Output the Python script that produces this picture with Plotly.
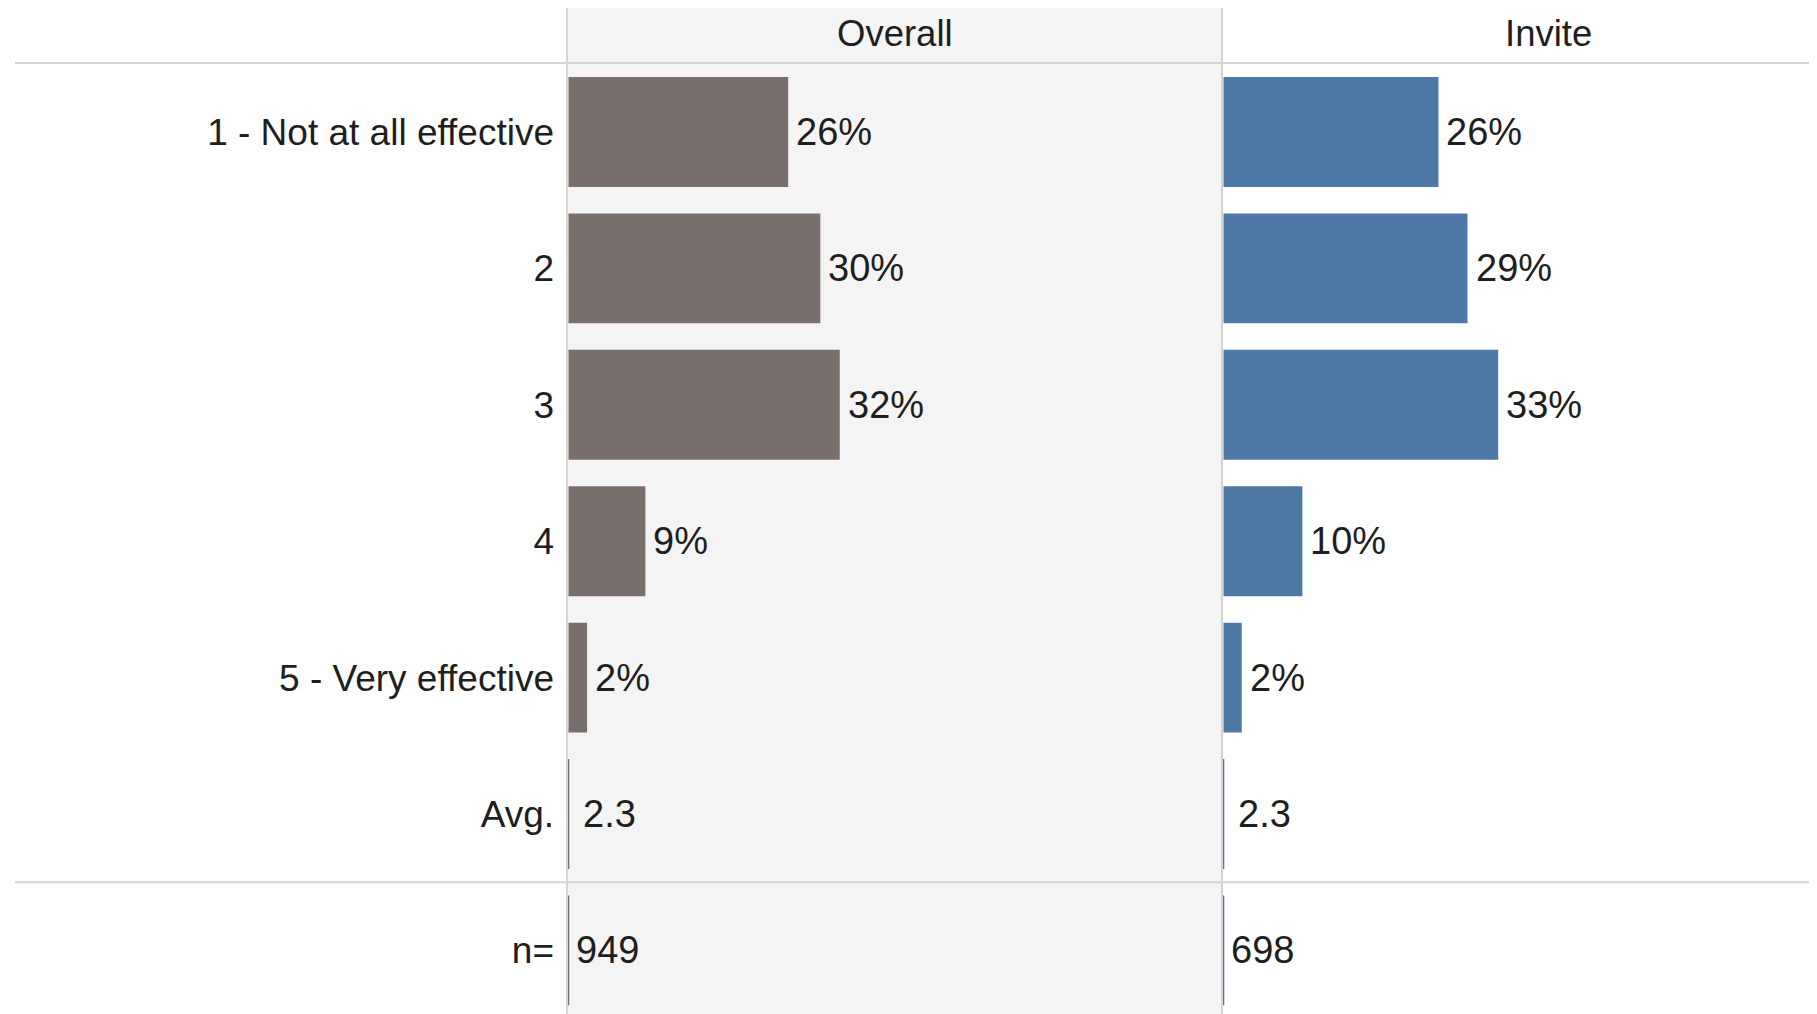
import plotly.graph_objects as go

# ---- data ----
categories = ["1 - Not at all effective", "2", "3", "4", "5 - Very effective", "Avg.", "n="]
panels = ["Overall", "Invite"]
overall_pct = [26.0, 29.8, 32.1, 9.1, 2.2]
invite_pct = [25.9, 29.4, 33.1, 9.5, 2.2]
overall_pct_labels = ["26%", "30%", "32%", "9%", "2%"]
invite_pct_labels = ["26%", "29%", "33%", "10%", "2%"]
avg_values = [2.3, 2.3]
n_values = [949, 698]

# ---- style / layout geometry (figure pixels) ----
W, H = 1809, 1006
L = 559            # left edge of the Overall panel
SPLIT_PX = 1214    # border between panels
colors = ["#79706E", "#4E79A7"]
text_color = "#1e1e1e"
line_color = "#d3d3d3"
FONT = "Liberation Sans, Arial, sans-serif"
top_px = 55.8
row_px = 136.4
n_rows_visible = (H - top_px) / row_px
y_range = [-0.5 + n_rows_visible, -0.5]
y_dom_top = 1 - top_px / H
split = (SPLIT_PX - L) / (W - L)
pad_pct = [1.5 / 8.45, 1.5 / 8.3]
x_ranges = [[-pad_pct[0], 655 / 8.45 - pad_pct[0]],
            [-pad_pct[1], (W - SPLIT_PX) / 8.3 - pad_pct[1]]]

def px_to_paper_x(p):
    return (p - L) / (W - L)

def px_to_paper_y(p):
    return 1 - p / H

fig = go.Figure()

pct_sets = [overall_pct, invite_pct]
lab_sets = [overall_pct_labels, invite_pct_labels]
axes = ["x", "x2"]
avg_idx = categories.index("Avg.")
n_idx = categories.index("n=")
annotations = []
for i in range(2):
    xs = pct_sets[i] + [0, 0]
    lw = [0] * len(pct_sets[i]) + [1.6, 1.6]
    fig.add_trace(go.Bar(
        x=xs, y=categories, orientation="h",
        xaxis=axes[i], yaxis="y",
        width=0.806,
        marker=dict(color=colors[i], line=dict(color=colors[i], width=lw)),
        hoverinfo="skip", showlegend=False,
    ))
    for j, (v, t) in enumerate(zip(pct_sets[i], lab_sets[i])):
        annotations.append(dict(x=v, y=j, xref=axes[i], yref="y",
                                text=t, showarrow=False, xanchor="left", xshift=6,
                                font=dict(size=38, color=text_color, family=FONT)))
    annotations.append(dict(x=0, y=avg_idx, xref=axes[i], yref="y",
                            text=f"{avg_values[i]:.1f}", showarrow=False, xanchor="left", xshift=12,
                            font=dict(size=38, color=text_color, family=FONT)))
    annotations.append(dict(x=0, y=n_idx, xref=axes[i], yref="y",
                            text=str(n_values[i]), showarrow=False, xanchor="left", xshift=5,
                            font=dict(size=38, color=text_color, family=FONT)))

# panel headers
header_x = [px_to_paper_x((L + SPLIT_PX) / 2), px_to_paper_x(1540)]
for hx, name in zip(header_x, panels):
    annotations.append(dict(x=hx, y=px_to_paper_y(26), xref="paper", yref="paper",
                            text=name, showarrow=False, xanchor="center", yanchor="middle",
                            font=dict(size=36.5, color=text_color, family=FONT)))

line_y = top_px + 6 * row_px
shapes = [
    dict(type="rect", xref="paper", yref="paper", x0=0, x1=split,
         y0=0, y1=1, fillcolor="#f4f4f4", line=dict(width=0), layer="below"),
    dict(type="line", xref="paper", yref="paper", x0=px_to_paper_x(7), x1=1,
         y0=px_to_paper_y(55), y1=px_to_paper_y(55), line=dict(color=line_color, width=2)),
    dict(type="line", xref="paper", yref="paper", x0=px_to_paper_x(7), x1=1,
         y0=px_to_paper_y(line_y), y1=px_to_paper_y(line_y),
         line=dict(color=line_color, width=2)),
    dict(type="line", xref="paper", yref="paper", x0=0, x1=0,
         y0=0, y1=1, line=dict(color=line_color, width=2)),
    dict(type="line", xref="paper", yref="paper", x0=split, x1=split,
         y0=0, y1=1, line=dict(color=line_color, width=2)),
]

axis_common = dict(showgrid=False, zeroline=False, showticklabels=False, showline=False, ticks="")
fig.update_layout(
    width=W, height=H,
    margin=dict(l=L, r=0, t=0, b=0, pad=0),
    paper_bgcolor="white", plot_bgcolor="rgba(0,0,0,0)",
    barmode="overlay",
    xaxis=dict(domain=[0, split], range=x_ranges[0], **axis_common),
    xaxis2=dict(domain=[split, 1], range=x_ranges[1], anchor="y", **axis_common),
    yaxis=dict(domain=[0, y_dom_top], type="category", categoryorder="array",
               categoryarray=categories, range=y_range, showgrid=False, zeroline=False,
               showline=False, ticks="", ticklabelstandoff=12,
               tickfont=dict(size=37, color=text_color, family=FONT)),
    shapes=shapes,
    annotations=annotations,
    font=dict(family=FONT),
)

fig.write_html("out.html")
